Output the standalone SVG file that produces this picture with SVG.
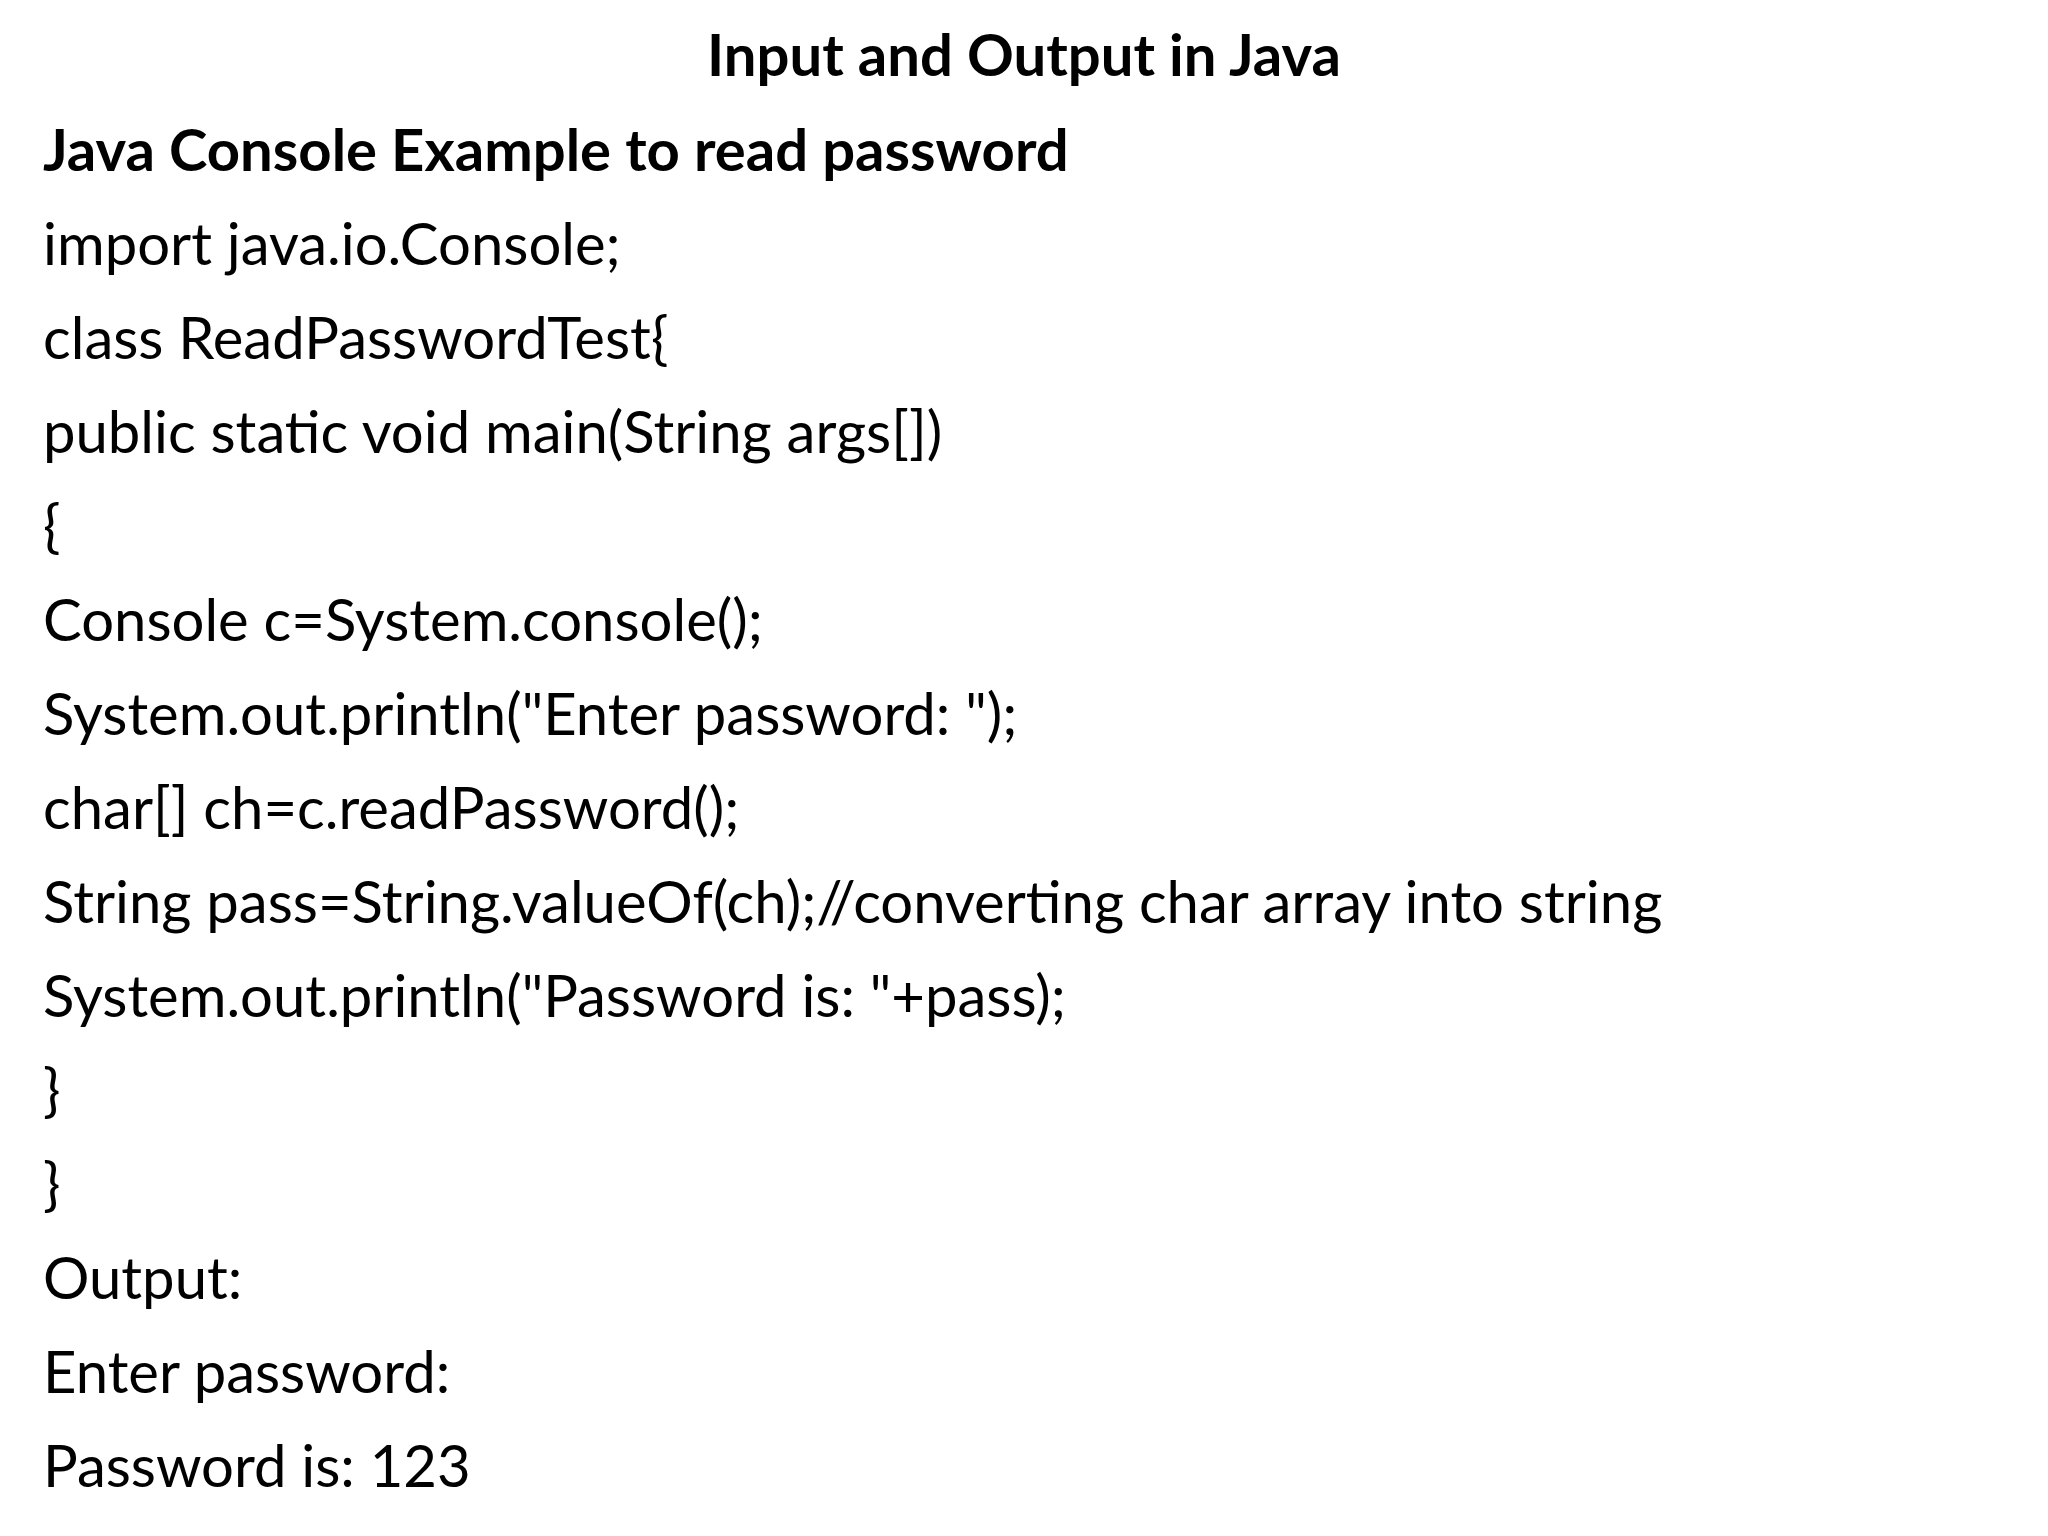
<svg xmlns="http://www.w3.org/2000/svg" width="2048" height="1536" viewBox="0 0 2048 1536">
<style>
text{font-family:Lato,"Liberation Sans",sans-serif;font-size:58px;fill:#000}
.b{font-weight:bold}
</style>
<rect width="2048" height="1536" fill="#fff"/>
<text class="b" x="1024" y="76" text-anchor="middle">Input and Output in Java</text>
<g>
<text class="b" x="43" y="171">Java Console Example to read password</text>
<text x="43" y="265">import java.io.Console;</text>
<text x="43" y="359">class ReadPasswordTest{</text>
<text x="43" y="453">public static void main(String args[])</text>
<text x="43" y="547">{</text>
<text x="43" y="641">Console c=System.console();</text>
<text x="43" y="735">System.out.println("Enter password: ");</text>
<text x="43" y="829">char[] ch=c.readPassword();</text>
<text x="43" y="923">String pass=String.valueOf(ch);//converting char array into string</text>
<text x="43" y="1017">System.out.println("Password is: "+pass);</text>
<text x="43" y="1111">}</text>
<text x="43" y="1205">}</text>
<text x="43" y="1299">Output:</text>
<text x="43" y="1393">Enter password:</text>
<text x="43" y="1487">Password is: 123</text>
</g>
</svg>
